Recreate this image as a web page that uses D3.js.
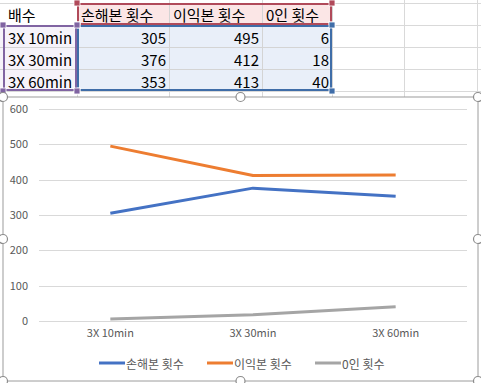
<!DOCTYPE html>
<html><head><meta charset="utf-8">
<script src="https://cdn.jsdelivr.net/npm/d3@7"></script>
<style>html,body{margin:0;padding:0;background:#fff;overflow:hidden}svg{display:block}</style>
</head><body>
<svg id="c" width="481" height="383"></svg>
<script>
const categories = ["3X 10min", "3X 30min", "3X 60min"];
const rowHeader = "배수";
const seriesNames = ["손해본 횟수", "이익본 횟수", "0인 횟수"];
const lossCounts = [305, 376, 353];
const gainCounts = [495, 412, 413];
const zeroCounts = [6, 18, 40];
const yTicks = [0, 100, 200, 300, 400, 500, 600];
const seriesColors = ["#4472C4", "#ED7D31", "#A5A5A5"];

const seriesValues = [lossCounts, gainCounts, zeroCounts];
const svg = d3.select("#c");
const FONT = "'Noto Sans CJK KR', 'Noto Sans', sans-serif";

// ---------- spreadsheet area ----------
const colEdges = [-1, 77, 169, 262, 332, 404, 477, 560];
const rowEdges = [3, 25, 47, 69, 91];
const sheet = svg.append("g");
// gridlines
colEdges.forEach(x => sheet.append("line").attr("x1", x + 0.5).attr("x2", x + 0.5).attr("y1", 0).attr("y2", 97).attr("stroke", "#D9D9D9"));
rowEdges.forEach(y => sheet.append("line").attr("x1", 0).attr("x2", 481).attr("y1", y + 0.5).attr("y2", y + 0.5).attr("stroke", "#D9D9D9"));
// fills
sheet.append("rect").attr("x", colEdges[1]).attr("y", rowEdges[0]).attr("width", colEdges[4] - colEdges[1]).attr("height", rowEdges[1] - rowEdges[0]).attr("fill", "#FBE6E6");
sheet.append("rect").attr("x", colEdges[1]).attr("y", rowEdges[1]).attr("width", colEdges[4] - colEdges[1]).attr("height", rowEdges[4] - rowEdges[1]).attr("fill", "#E9EFF9");
sheet.append("rect").attr("x", colEdges[0]).attr("y", rowEdges[1]).attr("width", colEdges[1] - colEdges[0]).attr("height", rowEdges[4] - rowEdges[1]).attr("fill", "#F6F3FA");
// inner cell lines
for (let i = 1; i <= 4; i++) sheet.append("line").attr("x1", colEdges[i] + 0.5).attr("x2", colEdges[i] + 0.5).attr("y1", rowEdges[0]).attr("y2", rowEdges[4]).attr("stroke", "#D4D4D4");
for (let j = 1; j < 4; j++) sheet.append("line").attr("x1", 0).attr("x2", colEdges[4]).attr("y1", rowEdges[j] + 0.5).attr("y2", rowEdges[j] + 0.5).attr("stroke", "#D4D4D4");
// range borders
function rangeBox(x0, y0, x1, y1, col) {
  sheet.append("rect").attr("x", x0 + 1).attr("y", y0 + 1).attr("width", x1 - x0 - 2).attr("height", y1 - y0 - 2)
    .attr("fill", "none").attr("stroke", col).attr("stroke-width", 2);
  [[x0, y0], [x1, y0], [x0, y1], [x1, y1]].forEach(([x, y]) =>
    sheet.append("rect").attr("x", x - 3).attr("y", y - 3).attr("width", 6).attr("height", 6).attr("fill", col).attr("stroke", "#fff").attr("stroke-width", 0.8));
}
rangeBox(colEdges[1], rowEdges[0] + 8 - 8, colEdges[4], rowEdges[1], "#B04A5A");
rangeBox(colEdges[1], rowEdges[1], colEdges[4], rowEdges[4], "#3F6DA8");
rangeBox(3, rowEdges[1], colEdges[1], rowEdges[4], "#8064A2");
// texts
const txt = (x, y, s, anchor) => sheet.append("text").attr("x", x).attr("y", y).attr("text-anchor", anchor)
  .attr("dominant-baseline", "central").attr("font-family", FONT).attr("font-size", 15).attr("fill", "#000").text(s);
txt(8, 14, rowHeader, "start");
seriesNames.forEach((s, i) => txt(colEdges[i + 1] + 4, 14, s, "start"));
categories.forEach((c, r) => {
  const yc = (rowEdges[r + 1] + rowEdges[r + 2]) / 2 + 1;
  txt(8, yc, c, "start");
  seriesValues.forEach((vals, i) => txt(colEdges[i + 2] - 3, yc, vals[r], "end"));
});

// ---------- chart ----------
const frame = {x0: 3, y0: 97, x1: 478, y1: 381};
svg.append("rect").attr("x", frame.x0).attr("y", frame.y0).attr("width", frame.x1 - frame.x0).attr("height", frame.y1 - frame.y0)
  .attr("fill", "#fff").attr("stroke", "#9C9C9C").attr("stroke-width", 1);

const x = d3.scaleBand().domain(categories).range([39, 467]);
const y = d3.scaleLinear().domain([0, 600]).range([321, 109]);

const g = svg.append("g");
// gridlines
g.selectAll("line.grid").data(yTicks).join("line")
  .attr("x1", 39).attr("x2", 467).attr("y1", d => Math.round(y(d)) + 0.5).attr("y2", d => Math.round(y(d)) + 0.5)
  .attr("stroke", "#D9D9D9").attr("stroke-width", 1);

// y axis labels
const yAxis = d3.axisLeft(y).tickValues(yTicks).tickSize(0).tickPadding(0);
const ya = g.append("g").attr("transform", "translate(28,0)").call(yAxis);
ya.select(".domain").remove();
ya.selectAll("text").attr("font-family", FONT).attr("font-size", 11).attr("fill", "#595959");

// x axis labels
const xAxis = d3.axisBottom(x).tickSize(0).tickPadding(0);
const xa = g.append("g").attr("transform", "translate(0,329)").call(xAxis);
xa.select(".domain").remove();
xa.selectAll("text").attr("font-family", FONT).attr("font-size", 11).attr("fill", "#595959");

// lines
const line = d3.line().x((d, i) => x(categories[i]) + x.bandwidth() / 2).y(d => y(d));
seriesValues.forEach((vals, i) => {
  g.append("path").datum(vals).attr("d", line).attr("fill", "none")
    .attr("stroke", seriesColors[i]).attr("stroke-width", 3).attr("stroke-linejoin", "round");
});

// legend
const legendX = [99, 207, 315];
seriesNames.forEach((s, i) => {
  const lg = g.append("g").attr("transform", `translate(${legendX[i]},363)`);
  lg.append("line").attr("x1", 0).attr("x2", 26).attr("y1", 0).attr("y2", 0).attr("stroke", seriesColors[i]).attr("stroke-width", 3);
  lg.append("text").attr("x", 27).attr("y", 0).attr("dominant-baseline", "central").attr("font-family", FONT)
    .attr("font-size", 12).attr("fill", "#595959").text(s);
});

// selection handles
const handles = [[frame.x0, frame.y0], [(frame.x0 + frame.x1) / 2, frame.y0], [frame.x1, frame.y0],
  [frame.x0, (frame.y0 + frame.y1) / 2], [frame.x1, (frame.y0 + frame.y1) / 2],
  [frame.x0, frame.y1], [(frame.x0 + frame.x1) / 2, frame.y1], [frame.x1, frame.y1]];
svg.selectAll("circle.h").data(handles).join("circle")
  .attr("cx", d => d[0]).attr("cy", d => d[1]).attr("r", 4.5)
  .attr("fill", "#fff").attr("stroke", "#8C8C8C").attr("stroke-width", 1.2);
</script>
</body></html>
